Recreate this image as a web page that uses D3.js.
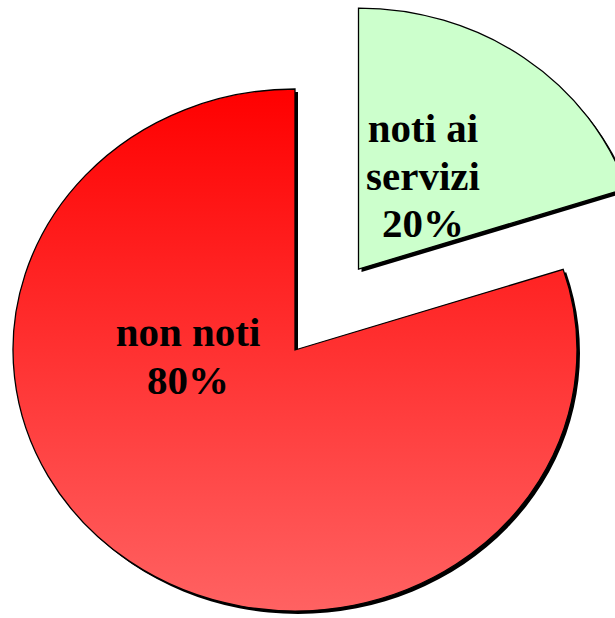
<!DOCTYPE html>
<html>
<head>
<meta charset="utf-8">
<script src="https://cdn.jsdelivr.net/npm/d3@7"></script>
<style>
  body { margin: 0; background: #fff; }
  svg { display: block; }
</style>
</head>
<body>
<div id="chart"></div>
<script>
// data
var categories = ["noti ai servizi", "non noti"];
var values = [20, 80];
var labelLines = [["noti ai", "servizi", "20%"], ["non noti", "80%"]];

var width = 615, height = 618;
var cx = 295, cy = 350;
var ry = 261, rx = 282;
var explode = 100;

var svg = d3.select("#chart")
  .append("svg")
  .attr("width", width)
  .attr("height", height);

var defs = svg.append("defs");
var grad = defs.append("linearGradient")
  .attr("id", "redGrad")
  .attr("gradientUnits", "userSpaceOnUse")
  .attr("x1", 0).attr("y1", -ry)
  .attr("x2", 0).attr("y2", ry);
grad.append("stop").attr("offset", "0%").attr("stop-color", "#ff0000");
grad.append("stop").attr("offset", "100%").attr("stop-color", "#ff6262");

var fills = ["#ccffcc", "url(#redGrad)"];

var pie = d3.pie().sort(null).value(function (d) { return d; });
var arcs = pie(values);

var arc = d3.arc().innerRadius(0).outerRadius(ry);

// offset of exploded slice (the small one)
function offset(d, i) {
  if (i !== 0) return [0, 0];
  var a = (d.startAngle + d.endAngle) / 2;
  return [Math.sin(a) * explode * rx / ry, -Math.cos(a) * explode];
}

var g = svg.append("g")
  .attr("transform", "translate(" + cx + "," + cy + ")");

// shadows
g.selectAll("path.shadow")
  .data(arcs)
  .enter()
  .append("path")
  .attr("class", "shadow")
  .attr("transform", function (d, i) {
    var o = offset(d, i);
    return "translate(" + (o[0] + 3) + "," + (o[1] + 3) + ")scale(" + (rx / ry) + ",1)";
  })
  .attr("d", arc)
  .style("fill", "#000");

// slices
g.selectAll("path.slice")
  .data(arcs)
  .enter()
  .append("path")
  .attr("class", "slice")
  .attr("transform", function (d, i) {
    var o = offset(d, i);
    return "translate(" + o[0] + "," + o[1] + ")scale(" + (rx / ry) + ",1)";
  })
  .attr("d", arc)
  .style("fill", function (d, i) { return fills[i]; })
  .style("stroke", "#000")
  .style("stroke-width", 1.3)
  .attr("vector-effect", "non-scaling-stroke");

// labels: centre x and first baseline, relative to pie centre
var labelPos = [[128, -208], [-107, -4]];
var lineH = 47.5;

g.selectAll("text.label")
  .data(arcs)
  .enter()
  .append("text")
  .attr("class", "label")
  .attr("text-anchor", "middle")
  .style("font-family", "'Liberation Serif', 'Times New Roman', serif")
  .style("font-weight", "bold")
  .style("font-size", "41px")
  .style("fill", "#000")
  .each(function (d, i) {
    var t = d3.select(this);
    labelLines[i].forEach(function (s, k) {
      t.append("tspan")
        .attr("x", labelPos[i][0])
        .attr("y", labelPos[i][1] + k * lineH)
        .text(s);
    });
  });
</script>
</body>
</html>
